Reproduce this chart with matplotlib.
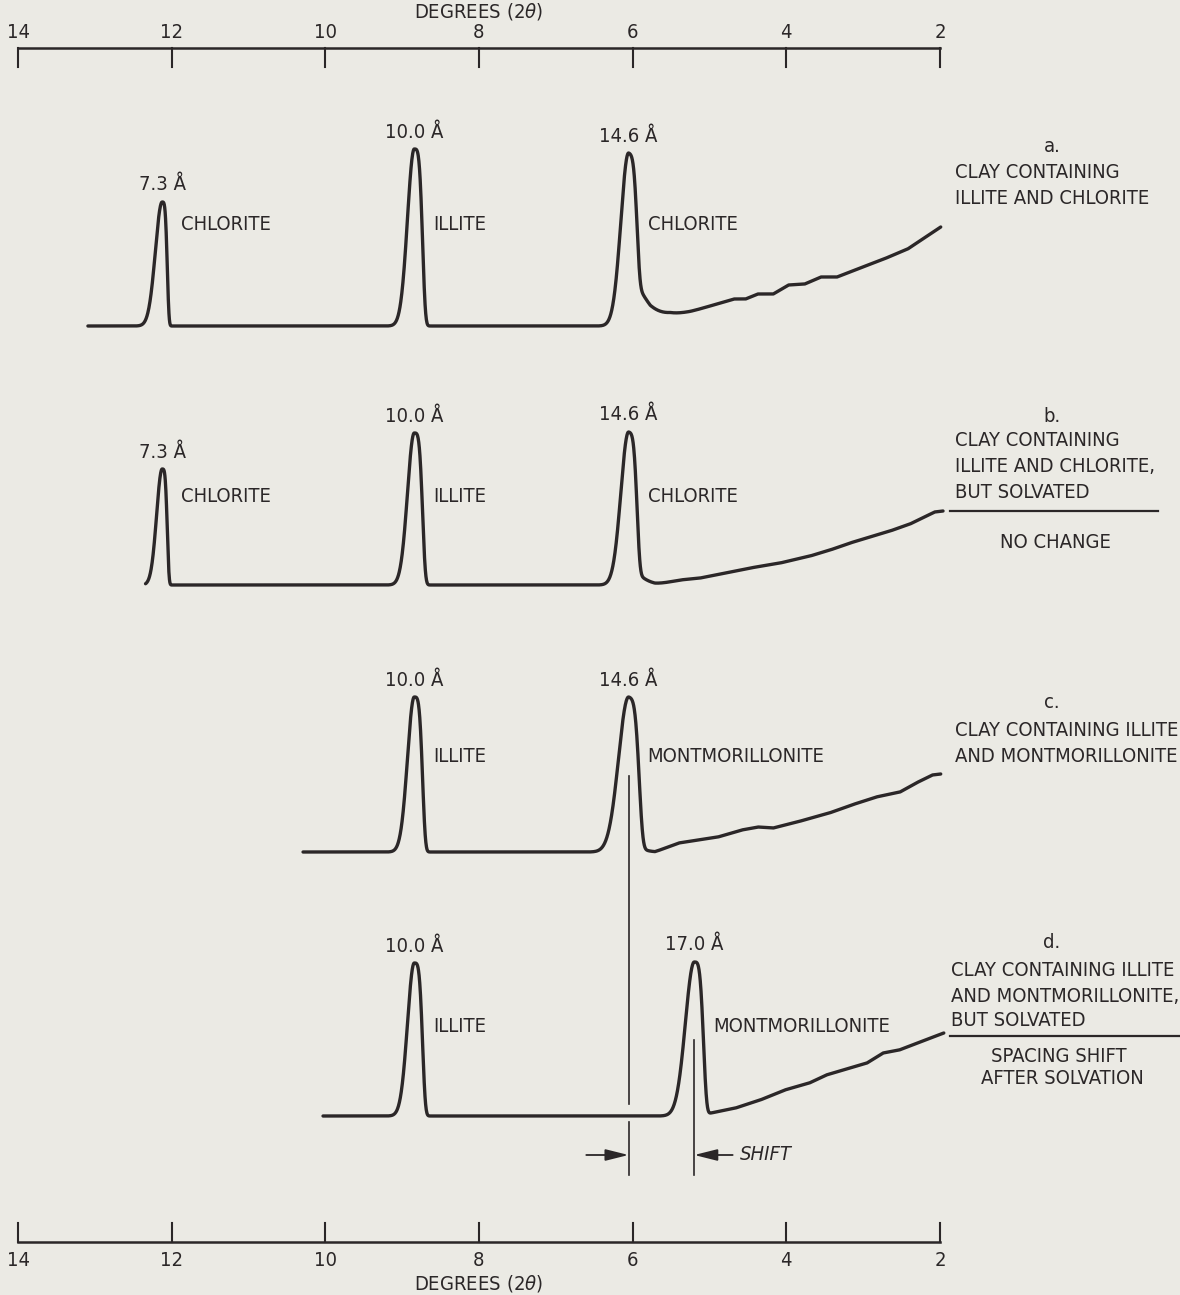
import numpy as np
import matplotlib.pyplot as plt

plt.rcParams['font.family'] = ['DejaVu Sans']
plt.rcParams['font.stretch'] = 'condensed'
plt.rcParams['mathtext.fontset'] = 'dejavusans'

LAMBDA = 1.5418  # Cu K-alpha, angstrom

def two_theta(d):
    return 2 * np.degrees(np.arcsin(LAMBDA / (2 * d)))

# scale ticks (degrees 2-theta)
ticks = [14, 12, 10, 8, 6, 4, 2]

# ---- trace a: illite + chlorite
a_base = 326
a_span = (13.09, 1.99)
a_d = [7.3, 10.0, 14.6]
a_h = [124, 177, 173]
a_names = ['CHLORITE', 'ILLITE', 'CHLORITE']
a_bg_x = [5.77, 5.51, 5.25, 4.99, 4.68, 4.53, 4.37, 4.17, 3.97, 3.76, 3.55, 3.34, 3.04, 2.73, 2.42, 1.99]
a_bg_h = [0, 9, 14, 20, 27, 27, 32, 32, 41, 42, 49, 49, 58, 67, 77, 99]

# ---- trace b: illite + chlorite, solvated
b_base = 585
b_span = (12.34, 1.96)
b_d = [7.3, 10.0, 14.6]
b_h = [116, 152, 153]
b_names = ['CHLORITE', 'ILLITE', 'CHLORITE']
b_bg_x = [5.71, 5.38, 5.12, 4.86, 4.47, 4.08, 3.69, 3.43, 3.17, 2.91, 2.65, 2.39, 2.20, 2.07, 1.96]
b_bg_h = [0, 5, 7, 11, 17, 22, 29, 35, 42, 48, 54, 61, 68, 73, 74]

# ---- trace c: illite + montmorillonite
c_base = 852
c_span = (10.29, 1.99)
c_d = [10.0, 14.6]
c_h = [155, 155]
c_names = ['ILLITE', 'MONTMORILLONITE']
c_bg_x = [5.71, 5.40, 4.89, 4.58, 4.37, 4.17, 3.86, 3.44, 3.15, 2.83, 2.52, 2.31, 2.10, 1.99]
c_bg_h = [0, 9, 15, 22, 25, 24, 30, 39, 47, 55, 60, 69, 77, 78]

# ---- trace d: illite + montmorillonite, solvated
d_base = 1116
d_span = (10.03, 1.95)
d_d = [10.0, 17.0]
d_h = [153, 154]
d_names = ['ILLITE', 'MONTMORILLONITE']
d_bg_x = [5.12, 4.98, 4.66, 4.34, 4.02, 3.70, 3.48, 3.17, 2.95, 2.74, 2.53, 2.26, 1.95]
d_bg_h = [0, 3, 8, 16, 26, 33, 41, 48, 53, 63, 66, 74, 83]

# peak shape per trace/spacing, degrees:
# (high-angle sigma, low-angle width, tail fraction, tail width)
flanks = {
    ('a', 7.3): (0.088, 0.072, 0, 1), ('a', 10.0): (0.088, 0.117, 0, 1),
    ('a', 14.6): (0.10, 0.12, 0.30, 0.30),
    ('b', 7.3): (0.072, 0.072, 0, 1), ('b', 10.0): (0.088, 0.117, 0, 1),
    ('b', 14.6): (0.10, 0.12, 0.12, 0.20),
    ('c', 10.0): (0.088, 0.117, 0, 1), ('c', 14.6): (0.13, 0.15, 0.08, 0.15),
    ('d', 10.0): (0.088, 0.117, 0, 1), ('d', 17.0): (0.115, 0.13, 0, 1),
}


def peak(x, c, h, wl, wr, s, tau):
    # gaussian high-angle flank; steep flat-topped low-angle flank with a tail
    # (x axis runs high->low, so the high-angle side is x > c)
    u = x - c
    hi = np.exp(-0.5 * (u / wl) ** 2)
    lo = (1 - s) * np.exp(-(np.abs(u) / wr) ** 4) + s * np.exp(-(np.abs(u) / tau) ** 1.5)
    return h * np.where(u > 0, hi, lo)


fig = plt.figure(figsize=(11.8, 12.95), dpi=100, facecolor='#ebeae4')
ax = fig.add_axes([0, 0, 1, 1])
ax.set_facecolor('#ebeae4')
px = 76.83  # pixels per degree
ax.set_xlim(14 + 18 / px, 14 - 1162 / px)
ax.set_ylim(1295, 0)
ax.axis('off')

ink = '#2b2728'
fs = 14.5


def draw_trace(key, base, span, dvals, hvals, names, bg_x, bg_h, label_row):
    x = np.linspace(span[0], span[1], 4000)
    y = np.zeros_like(x)
    for d, h in zip(dvals, hvals):
        y += peak(x, two_theta(d), h, *flanks[(key, d)])
    y += np.interp(-x, -np.array(bg_x), np.array(bg_h), left=0, right=bg_h[-1])
    ax.plot(x, base - y, color=ink, lw=2.4, solid_capstyle='round')
    for d, h, name in zip(dvals, hvals, names):
        c = two_theta(d)
        ax.text(c, base - h - 17, f'{d:.1f} Å', ha='center', va='center',
                fontsize=fs, color=ink)
        ax.text(c - 0.25, label_row, name, ha='left', va='center',
                fontsize=fs, color=ink)


draw_trace('a', a_base, a_span, a_d, a_h, a_names, a_bg_x, a_bg_h, 225)
draw_trace('b', b_base, b_span, b_d, b_h, b_names, b_bg_x, b_bg_h, 496)
draw_trace('c', c_base, c_span, c_d, c_h, c_names, c_bg_x, c_bg_h, 757)
draw_trace('d', d_base, d_span, d_d, d_h, d_names, d_bg_x, d_bg_h, 1027)

# degree scales, top and bottom
for y0, sgn, ylab, ytitle in [(48, 1, 32, 11), (1242, -1, 1260, 1284)]:
    ax.plot([14, 2], [y0, y0], color=ink, lw=1.8)
    for t in ticks:
        ax.plot([t, t], [y0, y0 + sgn * 19], color=ink, lw=1.5)
        ax.text(t, ylab, str(t), ha='center', va='center', fontsize=fs, color=ink)
    ax.text(8, ytitle, r'DEGREES (2$\mathit{\theta}$)', ha='center', va='center',
            fontsize=fs, color=ink)

# spacing-shift markers
x146 = two_theta(14.6)
x170 = two_theta(17.0)
ax.plot([x146, x146], [776, 1104], color=ink, lw=1.2)
ax.plot([x146, x146], [1122, 1175], color=ink, lw=1.2)
ax.plot([x170, x170], [1040, 1175], color=ink, lw=1.2)
arrow = dict(arrowstyle='-|>,head_length=1.0,head_width=0.25', color=ink,
             lw=1.3, mutation_scale=14, shrinkA=0, shrinkB=0)
ax.annotate('', xy=(x146, 1155), xytext=(x146 + 0.55, 1155), arrowprops=arrow)
ax.annotate('', xy=(x170, 1155), xytext=(x170 - 0.5, 1155), arrowprops=arrow)
ax.text(x170 - 0.6, 1155, 'SHIFT', ha='left', va='center', fontsize=fs,
        style='italic', color=ink)

# sample descriptions on the right
xr = 14 - (955 - 18) / px
xc = 14 - (1052 - 18) / px
rtext = dict(fontsize=fs, color=ink, va='center')
ax.text(xc, 146, 'a.', ha='center', **rtext)
ax.text(xr, 172, 'CLAY CONTAINING', ha='left', **rtext)
ax.text(xr, 198, 'ILLITE AND CHLORITE', ha='left', **rtext)

ax.text(xc, 416, 'b.', ha='center', **rtext)
ax.text(xr, 441, 'CLAY CONTAINING', ha='left', **rtext)
ax.text(xr, 467, 'ILLITE AND CHLORITE,', ha='left', **rtext)
ax.text(xr, 492, 'BUT SOLVATED', ha='left', **rtext)
ax.plot([14 - (950 - 18) / px, 14 - (1158 - 18) / px], [511, 511], color=ink, lw=1.6)
ax.text(14 - (1055 - 18) / px, 543, 'NO CHANGE', ha='center', **rtext)

ax.text(xc, 702, 'c.', ha='center', **rtext)
ax.text(xr, 730, 'CLAY CONTAINING ILLITE', ha='left', **rtext)
ax.text(xr, 757, 'AND MONTMORILLONITE', ha='left', **rtext)

xd = 14 - (951 - 18) / px
ax.text(xc, 943, 'd.', ha='center', **rtext)
ax.text(xd, 970, 'CLAY CONTAINING ILLITE', ha='left', **rtext)
ax.text(xd, 996, 'AND MONTMORILLONITE,', ha='left', **rtext)
ax.text(xd, 1020, 'BUT SOLVATED', ha='left', **rtext)
ax.plot([14 - (950 - 18) / px, 14 - (1180 - 18) / px], [1036, 1036], color=ink, lw=1.6)
ax.text(14 - (991 - 18) / px, 1056, 'SPACING SHIFT', ha='left', **rtext)
ax.text(14 - (981 - 18) / px, 1079, 'AFTER SOLVATION', ha='left', **rtext)

fig.savefig('out.png', dpi=100, facecolor=fig.get_facecolor())
